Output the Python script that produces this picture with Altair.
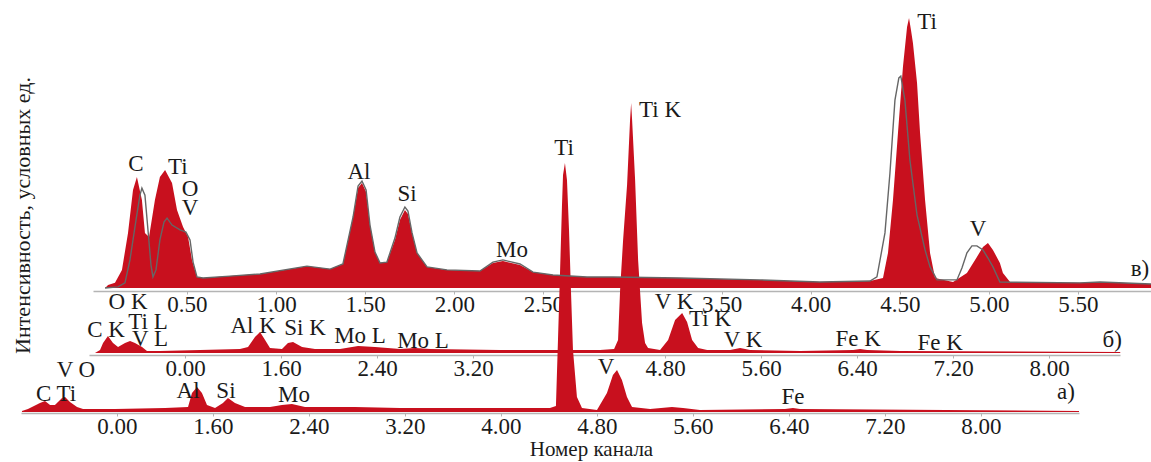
import altair as alt
import pandas as pd

RED = "#C8101E"
GREY = "#666666"
FONT = "Liberation Serif"
TXT = "#1a1a1a"
AX = "#b4b4b4"
FS = 23

# ---------------- spectrum "в" (top) : energy, keV / intensity, arb. units
v_energy = [0.040, 0.057, 0.096, 0.135, 0.169, 0.197, 0.219, 0.247, 0.264, 0.287, 0.320, 0.348,
            0.377, 0.416, 0.444, 0.478, 0.506, 0.528, 0.556, 0.590, 0.741, 0.910, 1.173, 1.303,
            1.375, 1.432, 1.460, 1.482, 1.505, 1.527, 1.555, 1.583, 1.622, 1.667, 1.695, 1.723,
            1.740, 1.763, 1.791, 1.847, 1.959, 2.144, 2.217, 2.273, 2.369, 2.442, 2.554, 2.745,
            2.891, 3.267, 3.716, 4.052, 4.333, 4.406, 4.434, 4.462, 4.490, 4.518, 4.541, 4.552,
            4.563, 4.574, 4.597, 4.614, 4.642, 4.670, 4.698, 4.799, 4.877, 4.933, 4.967, 4.995,
            5.023, 5.062, 5.079, 5.119, 5.511, 5.624, 5.910]
v_counts = [0, 11, 19, 67, 204, 363, 411, 326, 204, 189, 326, 411,
            437, 389, 289, 226, 189, 104, 41, 37, 44, 52, 81, 70,
            89, 263, 370, 389, 356, 233, 133, 93, 96, 178, 252, 289,
            274, 204, 130, 78, 67, 63, 93, 100, 85, 59, 48, 41,
            41, 37, 30, 22, 26, 37, 130, 326, 574, 819, 967, 1000,
            956, 907, 759, 574, 326, 130, 37, 22, 56, 115, 152, 167,
            141, 93, 56, 22, 19, 22, 15]

# reference (grey outline) spectrum of panel "в"
vr_energy = [0.040, 0.113, 0.152, 0.180, 0.214, 0.236, 0.247, 0.264, 0.281, 0.298, 0.309, 0.326,
             0.348, 0.371, 0.388, 0.416, 0.461, 0.494, 0.517, 0.534, 0.556, 0.590, 0.741, 0.910,
             1.173, 1.303, 1.375, 1.432, 1.460, 1.482, 1.505, 1.527, 1.555, 1.583, 1.622, 1.667,
             1.695, 1.723, 1.740, 1.763, 1.791, 1.847, 1.959, 2.144, 2.217, 2.273, 2.369, 2.442,
             2.554, 2.745, 2.891, 3.267, 3.716, 4.052, 4.333, 4.372, 4.417, 4.445, 4.473, 4.495,
             4.506, 4.529, 4.557, 4.597, 4.642, 4.670, 4.709, 4.821, 4.849, 4.877, 4.905, 4.933,
             4.967, 4.995, 5.023, 5.062, 5.511, 5.624, 5.910]
vr_counts = [0, 4, 19, 104, 252, 344, 370, 344, 215, 85, 41, 67,
             178, 244, 259, 233, 215, 207, 178, 96, 41, 37, 44, 52,
             81, 70, 89, 263, 378, 396, 363, 233, 133, 93, 96, 185,
             263, 300, 285, 204, 130, 78, 67, 63, 96, 104, 89, 59,
             48, 41, 41, 37, 30, 22, 26, 41, 204, 426, 696, 778,
             785, 696, 474, 270, 141, 78, 30, 30, 74, 130, 156, 156,
             141, 111, 78, 22, 19, 22, 15]

v_lab_text = ["C", "Ti", "O", "V", "Al", "Si", "Mo", "Ti", "V", "в)"]
v_lab_e = [0.214, 0.449, 0.517, 0.517, 1.465, 1.735, 2.324, 4.653, 4.939, 5.848]
v_lab_i = [459, 448, 367, 296, 430, 348, 141, 985, 219, 70]

# ---------------- spectrum "б" (middle)
b_energy = [0.050, 0.092, 0.117, 0.158, 0.200, 0.242, 0.300, 0.342, 0.383, 0.442, 0.483, 0.592,
            0.925, 1.258, 1.325, 1.383, 1.425, 1.467, 1.508, 1.608, 1.658, 1.700, 1.775, 1.883,
            2.092, 2.242, 2.383, 2.592, 2.717, 2.842, 3.425, 4.258, 4.375, 4.408, 4.425, 4.450,
            4.483, 4.508, 4.517, 4.525, 4.550, 4.575, 4.608, 4.633, 4.658, 4.758, 4.825, 4.883,
            4.942, 4.983, 5.025, 5.075, 5.150, 5.342, 5.425, 5.508, 5.925, 6.367, 6.425, 6.483,
            6.758, 8.592]
b_counts = [0, 12, 40, 68, 40, 24, 40, 48, 40, 24, 8, 8,
            12, 16, 24, 64, 84, 52, 20, 16, 40, 44, 24, 16,
            16, 28, 24, 16, 20, 16, 12, 12, 16, 52, 252, 452,
            672, 932, 1000, 932, 692, 372, 120, 40, 20, 12, 52, 132,
            160, 124, 52, 20, 12, 12, 20, 12, 8, 12, 16, 12,
            8, 4]

b_lab_text = ["O K", "C K", "Ti L", "V L", "Al K", "Si K", "Mo L", "Mo L",
              "Ti K", "V K", "Ti K", "V K", "Fe K", "Fe K", "б)"]
b_lab_e = [0.325, 0.142, 0.492, 0.508, 1.367, 1.800, 2.258, 2.783,
           4.758, 4.875, 5.175, 5.450, 6.408, 7.092, 8.525]
b_lab_i = [204, 92, 124, 56, 108, 100, 68, 48,
           972, 204, 136, 52, 56, 40, 52]

# ---------------- spectrum "а" (bottom)
a_energy = [0.008, 0.058, 0.158, 0.200, 0.242, 0.283, 0.342, 0.367, 0.408, 0.467, 0.517, 0.783,
            1.200, 1.392, 1.425, 1.467, 1.508, 1.550, 1.617, 1.683, 1.725, 1.783, 1.867, 2.075,
            2.175, 2.258, 2.367, 2.783, 3.158, 4.408, 4.458, 4.475, 4.492, 4.508, 4.517, 4.533,
            4.550, 4.567, 4.583, 4.600, 4.633, 4.675, 4.800, 4.883, 4.933, 4.967, 5.008, 5.050,
            5.092, 5.242, 5.425, 5.517, 5.658, 6.367, 6.433, 6.492, 8.817]
a_counts = [4, 12, 36, 44, 28, 28, 56, 60, 40, 20, 12, 12,
            16, 20, 76, 100, 76, 28, 16, 36, 56, 36, 20, 20,
            28, 32, 20, 20, 16, 16, 24, 288, 556, 820, 948, 996,
            928, 728, 488, 248, 60, 16, 8, 76, 148, 168, 128, 60,
            20, 12, 20, 16, 8, 12, 16, 12, 4]

a_lab_text = ["V O", "C Ti", "Al", "Si", "Mo", "Ti", "V", "Fe", "а)"]
a_lab_e = [0.458, 0.292, 1.392, 1.708, 2.275, 4.525, 4.875, 6.433, 8.708]
a_lab_i = [168, 72, 84, 84, 68, 1056, 180, 60, 80]

# axis tick values and labels
ticks_v = [0.5, 1.0, 1.5, 2.0, 2.5, 3.5, 4.0, 4.5, 5.0, 5.5]
ticks_b = [0.8, 1.6, 2.4, 3.2, 4.8, 5.6, 6.4, 7.2, 8.0]
ticks_a = [0.8, 1.6, 2.4, 3.2, 4.0, 4.8, 5.6, 6.4, 7.2, 8.0]
LABEL_EXPR = "datum.value < 1 ? '0.00' : format(datum.value, '.2f')"

X_TITLE = "Номер канала"
Y_TITLE = "Интенсивность, условных ед."

W, H = 1151, 413


def xenc(domain, rng, ticks, offset, title=None, expr=None):
    kw = dict(values=ticks, orient="bottom", offset=offset, grid=False,
              domainColor=AX, domainWidth=1.5, tickColor=AX, tickSize=3,
              labelFont=FONT, labelFontSize=FS, labelColor=TXT, labelPadding=-1,
              labelFlush=False, labelOverlap=False)
    if expr:
        kw["labelExpr"] = expr
    else:
        kw["format"] = ".2f"
    if title:
        kw.update(title=title, titleFont=FONT, titleFontSize=21, titleFontWeight="normal",
                  titleColor=TXT, titleX=591, titleY=36, titleBaseline="middle",
                  titleAlign="center")
    else:
        kw["title"] = ""
    return alt.X("E:Q", scale=alt.Scale(domain=domain, range=rng, nice=False, zero=False),
                 axis=alt.Axis(**kw))


def yenc(rng, title=None):
    sc = alt.Scale(domain=[0, 1000], range=rng, nice=False)
    if title:
        ax = alt.Axis(orient="left", domain=False, ticks=False, labels=False, grid=False,
                      title=title, titleFont=FONT, titleFontSize=22, titleFontWeight="normal",
                      titleColor=TXT, titleX=22, titleY=215, titleAngle=270,
                      titleAlign="center", titleBaseline="middle")
        return alt.Y("I:Q", scale=sc, axis=ax)
    return alt.Y("I:Q", scale=sc, axis=None)


def panel(energy, counts, lab_text, lab_e, lab_i, xe, ye, ref=None):
    spec = pd.DataFrame({"E": energy, "I": counts})
    labs = pd.DataFrame({"E": lab_e, "I": lab_i, "t": lab_text})
    layers = [alt.Chart(spec).mark_area(color=RED, interpolate="linear").encode(x=xe, y=ye)]
    if ref is not None:
        rdf = pd.DataFrame({"E": ref[0], "I": ref[1]})
        layers.append(alt.Chart(rdf).mark_line(color=GREY, strokeWidth=1.4).encode(x=xe, y=ye))
    layers.append(alt.Chart(labs).mark_text(font=FONT, fontSize=FS, color=TXT, align="center",
                                            baseline="middle").encode(x=xe, y=ye, text="t:N"))
    return alt.layer(*layers)


p_v = panel(v_energy, v_counts, v_lab_text, v_lab_e, v_lab_i,
            xenc([-0.0275, 5.91], [93, 1151], ticks_v, -122),
            yenc([288, 18], Y_TITLE), ref=(vr_energy, vr_counts))
p_b = panel(b_energy, b_counts, b_lab_text, b_lab_e, b_lab_i,
            xenc([0, 8.59], [89, 1120], ticks_b, -58, expr=LABEL_EXPR),
            yenc([353, 103]))
p_a = panel(a_energy, a_counts, a_lab_text, a_lab_e, a_lab_i,
            xenc([0, 8.817], [21, 1079], ticks_a, 0, title=X_TITLE, expr=LABEL_EXPR),
            yenc([412, 162]))

chart = (
    alt.layer(p_a, p_b, p_v)
    .resolve_scale(x="independent", y="independent")
    .properties(width=W, height=H, autosize="none",
                padding={"left": 0, "top": 0, "right": 0, "bottom": 49},
                background="white")
    .configure_view(stroke=None)
)

chart.save("out.html", embed_options={"renderer": "svg", "actions": False})
